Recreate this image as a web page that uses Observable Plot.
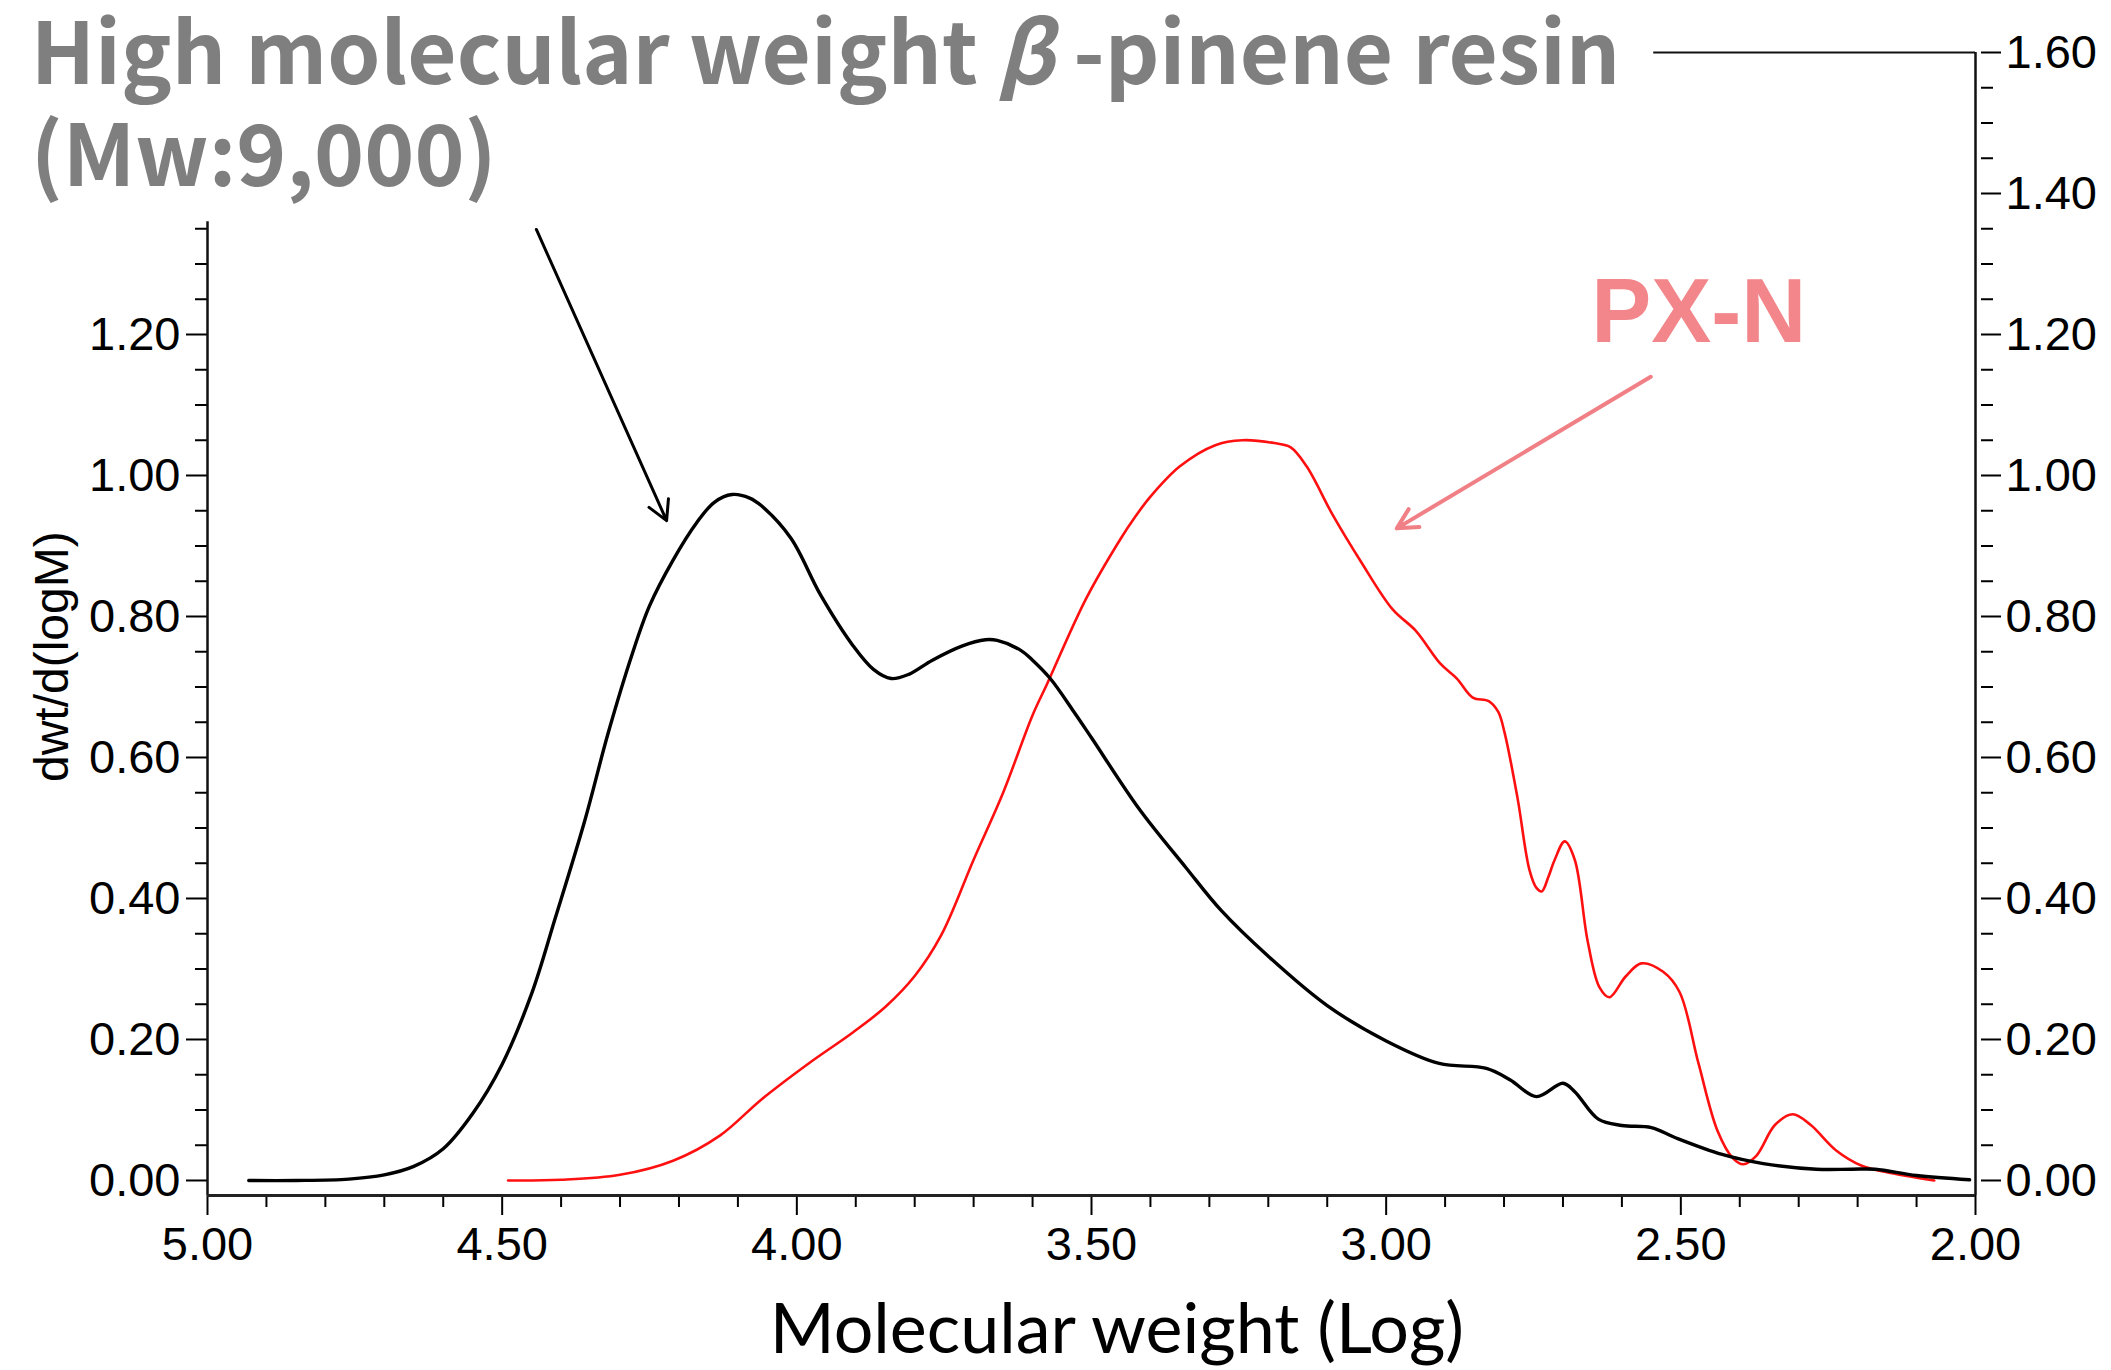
<!DOCTYPE html>
<html><head><meta charset="utf-8">
<script src="https://cdn.jsdelivr.net/npm/d3@7"></script>
<script src="https://cdn.jsdelivr.net/npm/@observablehq/plot@0.6"></script>
<style>html,body{margin:0;padding:0;background:#fff;}</style>
</head><body><div id="chart"></div>
<script>
// ---- data (log M, dwt/d(logM)) ----
const resinLogM = [4.93,4.85,4.76,4.70,4.65,4.60,4.55,4.50,4.45,4.41,4.36,4.32,4.28,4.25,4.21,4.17,4.14,4.11,4.08,4.06,4.01,3.96,3.905,3.87,3.84,3.81,3.77,3.72,3.68,3.66,3.62,3.60,3.57,3.53,3.50,3.42,3.34,3.28,3.20,3.10,3.00,2.91,2.83,2.79,2.745,2.70,2.68,2.64,2.60,2.55,2.51,2.43,2.36,2.27,2.21,2.17,2.10,2.01];
const resinDwt  = [0.000,0.000,0.002,0.008,0.020,0.045,0.095,0.165,0.265,0.372,0.510,0.635,0.745,0.815,0.880,0.933,0.962,0.973,0.968,0.957,0.911,0.831,0.759,0.725,0.712,0.718,0.738,0.758,0.767,0.766,0.752,0.738,0.712,0.665,0.628,0.528,0.444,0.383,0.318,0.248,0.198,0.166,0.159,0.143,0.119,0.138,0.126,0.087,0.078,0.075,0.061,0.037,0.024,0.016,0.016,0.016,0.007,0.001];

const pxnLogM = [4.49,4.40,4.30,4.21,4.13,4.06,3.98,3.905,3.85,3.80,3.755,3.70,3.65,3.60,3.575,3.51,3.45,3.427,3.40,3.35,3.29,3.244,3.19,3.162,3.135,3.09,3.043,2.989,2.95,2.908,2.88,2.853,2.826,2.81,2.799,2.777,2.757,2.745,2.736,2.725,2.714,2.697,2.68,2.658,2.638,2.621,2.594,2.567,2.53,2.502,2.47,2.438,2.411,2.394,2.372,2.34,2.31,2.28,2.237,2.193,2.139,2.07];
const pxnDwt  = [0.000,0.001,0.008,0.028,0.064,0.115,0.166,0.210,0.246,0.290,0.348,0.455,0.550,0.660,0.705,0.824,0.911,0.940,0.970,1.013,1.043,1.050,1.046,1.040,1.013,0.943,0.878,0.810,0.780,0.733,0.712,0.685,0.680,0.665,0.635,0.542,0.441,0.415,0.410,0.430,0.455,0.481,0.455,0.339,0.274,0.260,0.289,0.308,0.296,0.267,0.166,0.071,0.031,0.023,0.035,0.079,0.094,0.079,0.043,0.021,0.010,0.000];

// ---- ticks ----
const xMajorTicks = [5.0,4.5,4.0,3.5,3.0,2.5,2.0];
const xMinorTicks = [4.9,4.8,4.7,4.6,4.4,4.3,4.2,4.1,3.9,3.8,3.7,3.6,3.4,3.3,3.2,3.1,2.9,2.8,2.7,2.6,2.4,2.3,2.2,2.1];
const leftMajorTicks = [0,0.2,0.4,0.6,0.8,1.0,1.2];
const leftMinorTicks = [0.05,0.1,0.15,0.25,0.3,0.35,0.45,0.5,0.55,0.65,0.7,0.75,0.85,0.9,0.95,1.05,1.1,1.15,1.25,1.3,1.35];
const rightMajorTicks = [0,0.2,0.4,0.6,0.8,1.0,1.2,1.4,1.6];
const rightMinorTicks = [0.05,0.1,0.15,0.25,0.3,0.35,0.45,0.5,0.55,0.65,0.7,0.75,0.85,0.9,0.95,1.05,1.1,1.15,1.25,1.3,1.35,1.45,1.5,1.55];

// ---- text & annotations (positions in data units) ----
const titleLines = ["High molecular weight β -pinene resin", "(Mw:9,000)"];
const titleX = [5.300, 5.300];
const titleY = [1.556, 1.411];
const seriesLabel = ["PX-N"];
const seriesLabelX = [2.652];
const seriesLabelY = [1.190];
const xTitle = ["Molecular weight (Log)"];
const xTitlePos = [3.457, -0.245];
const yTitle = ["dwt/d(logM)"];
const yTitlePos = [5.263, 0.743];
const arrowResin = [4.442, 1.349, 4.221, 0.936];
const arrowPxn = [2.551, 1.140, 2.982, 0.925];
const leaderLine = [2.546, 2.0, 1.6];
const yFloor = -0.0213, yTop = 1.6, leftAxisTop = 1.36;

const rows = (xs, ys) => xs.map((x, i) => ({logM: x, dwt: ys[i]}));
const fmt = d => d.toFixed(2);
const blank = () => "";

const chart = Plot.plot({
  width: 2111, height: 1370,
  marginLeft: 207, marginRight: 136, marginTop: 52, marginBottom: 175,
  x: {domain: [5, 2], axis: null},
  y: {domain: [yFloor, yTop], axis: null},
  style: {fontFamily: "'Liberation Sans', Arial, sans-serif", background: "#fff", color: "#000", overflow: "visible"},
  marks: [
    Plot.axisX({anchor: "bottom", ticks: xMinorTicks, tickSize: 12, tickFormat: blank, strokeWidth: 2, label: null}),
    Plot.axisX({anchor: "bottom", ticks: xMajorTicks, tickSize: 20, tickPadding: 11, tickFormat: fmt, fontSize: 47, strokeWidth: 2, label: null}),
    Plot.axisY({anchor: "left", ticks: leftMinorTicks, tickSize: 12, tickFormat: blank, strokeWidth: 2, label: null}),
    Plot.axisY({anchor: "left", ticks: leftMajorTicks, tickSize: 21, tickPadding: 6, tickFormat: fmt, fontSize: 47, strokeWidth: 2, label: null}),
    Plot.axisY({anchor: "right", ticks: rightMinorTicks, tickSize: 12, dx: 5, tickFormat: blank, strokeWidth: 2, label: null}),
    Plot.axisY({anchor: "right", ticks: rightMajorTicks, tickSize: 20, dx: 5, tickPadding: 5, tickFormat: fmt, fontSize: 47, strokeWidth: 2, label: null}),
    Plot.ruleX([5], {y1: yFloor, y2: leftAxisTop, stroke: "#111", strokeWidth: 2.5}),
    Plot.ruleX([2], {y1: yFloor, y2: yTop, stroke: "#111", strokeWidth: 2.5}),
    Plot.ruleY([yFloor], {x1: 5, x2: 2, stroke: "#222", strokeWidth: 3}),
    Plot.ruleY([leaderLine[2]], {x1: leaderLine[0], x2: leaderLine[1], stroke: "#111", strokeWidth: 2}),
    Plot.line(rows(pxnLogM, pxnDwt), {x: "logM", y: "dwt", stroke: "#ff1010", strokeWidth: 2.6, curve: "catmull-rom"}),
    Plot.line(rows(resinLogM, resinDwt), {x: "logM", y: "dwt", stroke: "#000", strokeWidth: 3.4, curve: "catmull-rom"}),
    Plot.arrow([arrowResin], {x1: d => d[0], y1: d => d[1], x2: d => d[2], y2: d => d[3], stroke: "#000", strokeWidth: 3, headLength: 11, headAngle: 58}),
    Plot.arrow([arrowPxn], {x1: d => d[0], y1: d => d[1], x2: d => d[2], y2: d => d[3], stroke: "#f08085", strokeWidth: 4, headLength: 8.5, headAngle: 55}),
    Plot.text(titleLines, {x: (d, i) => titleX[i], y: (d, i) => titleY[i], text: d => d, textAnchor: "start", lineAnchor: "bottom", fontSize: 85, fontWeight: "bold", fill: "#7f7f7f", fontFamily: "'Noto Sans CJK JP', 'Noto Sans', sans-serif", className: "ttl"}),
    Plot.text(seriesLabel, {x: (d, i) => seriesLabelX[i], y: (d, i) => seriesLabelY[i], text: d => d, textAnchor: "start", lineAnchor: "bottom", fontSize: 90, fontWeight: "bold", fill: "#f2868a"}),
    Plot.text(xTitle, {x: xTitlePos[0], y: xTitlePos[1], text: d => d, textAnchor: "middle", lineAnchor: "bottom", fontSize: 70, fill: "#000", fontFamily: "Lato, 'Open Sans', sans-serif"}),
    Plot.text(yTitle, {x: yTitlePos[0], y: yTitlePos[1], text: d => d, textAnchor: "middle", lineAnchor: "middle", rotate: -90, fontSize: 48, fill: "#000"})
  ]
});

// italic beta in the title
d3.select(chart).selectAll("g.ttl text").each(function() {
  const t = this.textContent;
  if (t.includes("β")) {
    const [a, b] = t.split("β");
    const sel = d3.select(this);
    sel.text(null);
    sel.append("tspan").text(a);
    sel.append("tspan").attr("font-style", "italic").text("β");
    sel.append("tspan").text(b);
  }
});

document.getElementById("chart").appendChild(chart);
</script>
</body></html>
